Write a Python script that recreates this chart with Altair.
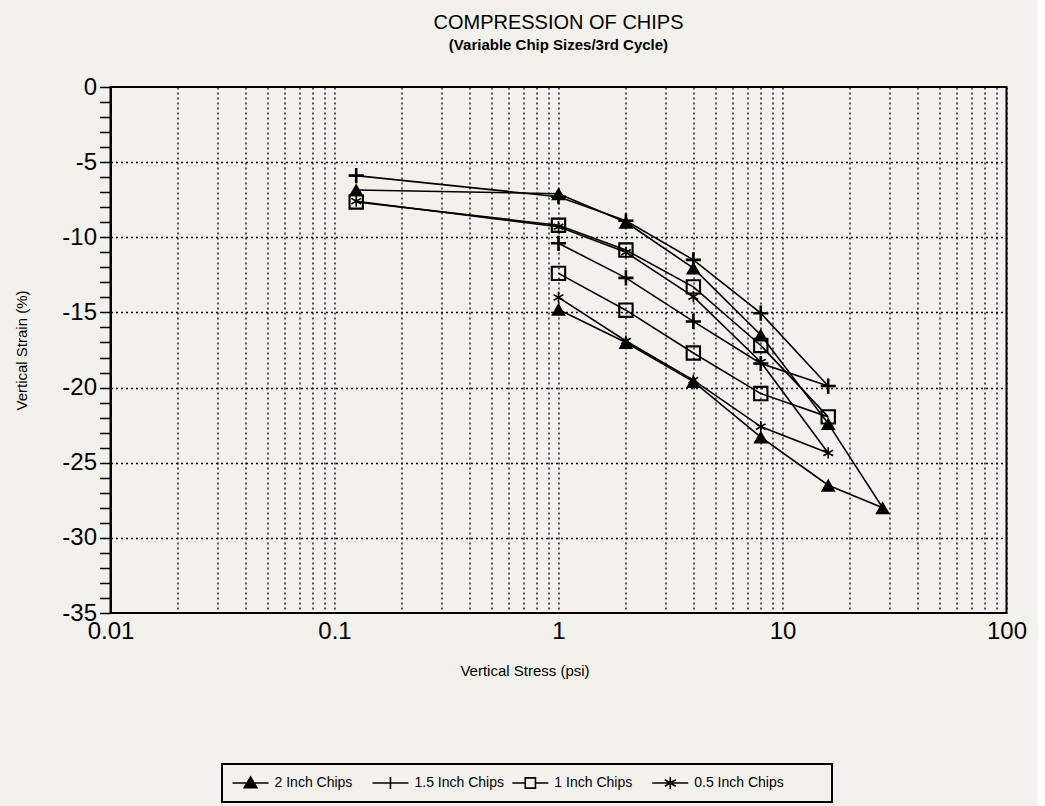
import altair as alt
import pandas as pd

FONT = "Liberation Sans"

series_names = ["2 Inch Chips", "1.5 Inch Chips", "1 Inch Chips", "0.5 Inch Chips"]

# loading then unloading path of the 3rd cycle (stress in psi, strain in %)
stress_2in = [0.125, 1, 2, 4, 8, 16, 28, 16, 8, 4, 2, 1]
strain_2in = [-6.85, -7.1, -9.0, -12.05, -16.5, -22.4, -28.0, -26.5, -23.3, -19.6, -17.0, -14.8]

stress_15in = [0.125, 1, 2, 4, 8, 16, 8, 4, 2, 1]
strain_15in = [-5.9, -7.3, -8.9, -11.5, -15.05, -19.9, -18.4, -15.6, -12.7, -10.4]

stress_1in = [0.125, 1, 2, 4, 8, 16, 8, 4, 2, 1]
strain_1in = [-7.65, -9.2, -10.85, -13.3, -17.2, -21.95, -20.4, -17.7, -14.85, -12.4]

stress_05in = [0.125, 1, 2, 4, 8, 16, 8, 4, 2, 1]
strain_05in = [-7.6, -9.3, -11.0, -13.95, -18.3, -24.35, -22.6, -19.5, -16.9, -14.0]

x_grid_values = [0.01, 0.02, 0.03, 0.04, 0.05, 0.06, 0.07, 0.08, 0.09,
                 0.1, 0.2, 0.3, 0.4, 0.5, 0.6, 0.7, 0.8, 0.9,
                 1, 2, 3, 4, 5, 6, 7, 8, 9,
                 10, 20, 30, 40, 50, 60, 70, 80, 90, 100]
x_label_values = [0.01, 0.1, 1, 10, 100]
y_tick_values = [0, -1, -2, -3, -4, -5, -6, -7, -8, -9, -10, -11, -12, -13, -14, -15,
                 -16, -17, -18, -19, -20, -21, -22, -23, -24, -25, -26, -27, -28, -29,
                 -30, -31, -32, -33, -34, -35]

rows = []
for name, xs, ys in [(series_names[0], stress_2in, strain_2in),
                     (series_names[1], stress_15in, strain_15in),
                     (series_names[2], stress_1in, strain_1in),
                     (series_names[3], stress_05in, strain_05in)]:
    for i, (sx, sy) in enumerate(zip(xs, ys)):
        rows.append({"series": name, "seq": i, "stress": sx, "strain": sy})
df = pd.DataFrame(rows)

PLUS = "M-1,0H1M0,-1V1"
STAR = "M0,-1V1M-0.87,-0.5L0.87,0.5M-0.87,0.5L0.87,-0.5"

label_expr = "indexof([0.01, 0.1, 1, 10, 100], datum.value) >= 0 ? toString(datum.value) : ''"

x_enc = alt.X(
    "stress:Q",
    scale=alt.Scale(type="log", domain=[0.01, 100]),
    axis=alt.Axis(
        values=x_grid_values, labelExpr=label_expr, grid=True, gridDash=[2, 3],
        gridColor="black", gridWidth=1.3, gridOpacity=1, ticks=False, domain=False,
        labelFontSize=24, labelColor="black", labelPadding=6, labelOverlap=False,
        labelFlush=False, title="Vertical Stress (psi)", titleFontSize=15,
        titleFontWeight="normal", titleColor="black", titlePadding=20,
        titleX=414, titleAlign="center",
    ),
)
y_enc = alt.Y(
    "strain:Q",
    scale=alt.Scale(domain=[-35, 0], nice=False, zero=False),
    axis=alt.Axis(
        values=y_tick_values,
        labelExpr="datum.value % 5 === 0 ? toString(datum.value) : ''",
        grid=True, gridDash=[2, 3], gridColor="black", gridWidth=1.3,
        gridOpacity={"condition": {"test": "datum.value % 5 === 0 && datum.value > -35 && datum.value < 0", "value": 1}, "value": 0},
        tickSize=11, tickWidth=1.5, tickColor="black", domainColor="black", domainWidth=2,
        labelFontSize=24, labelColor="black", labelPadding=3, labelOverlap=False,
        labelFlush=False, title="Vertical Strain (%)", titleFontSize=15,
        titleFontWeight="normal", titleColor="black", titlePadding=32,
    ),
)

base = alt.Chart(df).encode(x=x_enc, y=y_enc)

lines = base.mark_line(color="black", strokeWidth=1.6).encode(
    detail="series:N", order="seq:Q"
)
triangles = base.transform_filter(
    alt.datum.series == series_names[0]
).mark_point(shape="triangle-up", filled=True, color="black", size=220, opacity=1)

open_pts = base.transform_filter(
    alt.datum.series != series_names[0]
).mark_point(filled=False, color="black", opacity=1, strokeWidth=1.8).encode(
    shape=alt.Shape("series:N", scale=alt.Scale(domain=series_names[1:], range=[PLUS, "square", STAR]), legend=None),
    size=alt.Size("series:N", scale=alt.Scale(domain=series_names[1:], range=[230, 125, 220]), legend=None),
    strokeWidth=alt.StrokeWidth("series:N", scale=alt.Scale(domain=series_names[1:], range=[2.6, 1.6, 1.8]), legend=None),
)

main = alt.layer(lines, triangles, open_pts).properties(
    width=896, height=526,
    title=alt.TitleParams(
        text="COMPRESSION OF CHIPS", subtitle="(Variable Chip Sizes/3rd Cycle)",
        fontSize=20, fontWeight="normal", color="black", subtitleFontSize=15,
        subtitleFontWeight="bold", subtitleColor="black", subtitlePadding=5,
        anchor="middle", offset=22, font=FONT, subtitleFont=FONT,
    ),
)

# legend panel (its own view, boxed by the view stroke)
legend_items = ["2 Inch Chips", "1.5 Inch Chips", "1 Inch Chips", "0.5 Inch Chips"]
legend_paths = [
    "M-3,0H3M0,-1L1.05,0.8L-1.05,0.8Z",
    "M-3,0H3M0,-1V1",
    "M-3,0H-0.85M0.85,0H3M-0.85,-0.85H0.85V0.85H-0.85Z",
    "M-3,0H3M0,-1V1M-0.9,-0.55L0.9,0.55M-0.9,0.55L0.9,-0.55",
]
legend_fills = ["black", "transparent", "transparent", "transparent"]
legend_df = pd.DataFrame({"item": legend_items})

leg_base = alt.Chart(legend_df).encode(
    x=alt.X("item:N", sort=legend_items,
            scale=alt.Scale(type="point", padding=0.68, align=0.15), axis=None)
)
leg_sym = leg_base.mark_point(stroke="black", strokeWidth=1.6, size=144, opacity=1).encode(
    shape=alt.Shape("item:N", scale=alt.Scale(domain=legend_items, range=legend_paths), legend=None),
    fill=alt.Fill("item:N", scale=alt.Scale(domain=legend_items, range=legend_fills), legend=None),
)
leg_txt = leg_base.mark_text(align="left", dx=24, fontSize=14, font=FONT, color="black").encode(
    text="item:N"
)
legend = alt.layer(leg_sym, leg_txt).properties(
    width=610, height=38,
    # transparent spacer title on the right: shifts the centred box left, as in the original
    title=alt.TitleParams(text=".", orient="right", offset=70, color="transparent", fontSize=12),
)

chart = alt.vconcat(main, legend, spacing=84, center=True).resolve_scale(
    shape="independent", fill="independent", size="independent", strokeWidth="independent"
).properties(
    padding={"left": 13, "top": 12, "right": 10, "bottom": 5},
    background="#f3f1ec",
).configure(font=FONT).configure_view(stroke="black", strokeWidth=2)

chart.save("out.html", embed_options={"renderer": "svg", "actions": False})
